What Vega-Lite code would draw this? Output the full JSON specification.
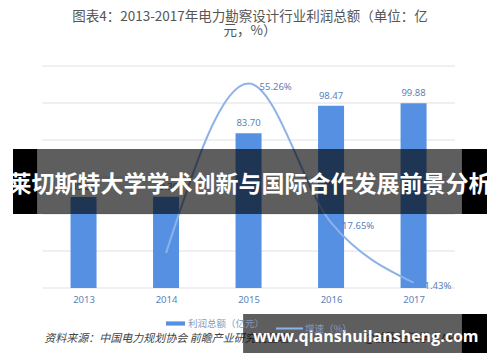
{
  "$schema": "https://vega.github.io/schema/vega-lite/v6.json",
  "autosize": "none",
  "width": 484,
  "height": 222,
  "padding": {"left": 8, "top": 66, "right": 8, "bottom": 74},
  "background": "white",
  "title": {
    "text": ["图表4：2013-2017年电力勘察设计行业利润总额（单位：亿", "元，%）"],
    "anchor": "middle",
    "font": "Noto Sans CJK SC",
    "fontSize": 13.5,
    "fontWeight": "normal",
    "color": "#555555",
    "lineHeight": 14,
    "offset": 28
  },
  "config": {
    "view": {"stroke": null},
    "font": "Noto Sans CJK SC",
    "axisX": {"grid": false, "ticks": false, "domain": false},
    "axisY": {"grid": false}
  },
  "datasets": {
    "profit": [
      {"year": 2013, "v": 49.2},
      {"year": 2014, "v": 49.3},
      {"year": 2015, "v": 83.70},
      {"year": 2016, "v": 98.47},
      {"year": 2017, "v": 99.88}
    ],
    "growth": [
      {"year": 2014, "g": 0.0946},
      {"year": 2015, "g": 0.5526},
      {"year": 2016, "g": 0.1765},
      {"year": 2017, "g": 0.0143}
    ],
    "grid": [{"v": 0}, {"v": 20}, {"v": 40}, {"v": 60}, {"v": 80}, {"v": 100}, {"v": 120}]
  },
  "resolve": {"scale": {"y": "independent"}},
  "layer": [
    {
      "layer": [
        {
          "data": {"name": "grid"},
          "mark": {"type": "rule", "color": "#e0e0e0", "strokeWidth": 1},
          "encoding": {
            "y": {"field": "v", "type": "quantitative", "scale": {"domain": [0, 120]}, "axis": null},
            "x": {"datum": 2012.5, "type": "quantitative"},
            "x2": {"datum": 2017.5}
          }
        },
        {
          "data": {"name": "profit"},
          "mark": {"type": "bar", "orient": "vertical", "size": 26},
          "encoding": {
            "x": {
              "field": "year", "type": "quantitative",
              "scale": {"domain": [2012.145, 2017.89], "nice": false, "zero": false},
              "axis": {
                "values": [2013, 2014, 2015, 2016, 2017], "format": "d", "title": null,
                "labelColor": "#5b7fb8", "labelFontSize": 9.5, "labelFont": "Noto Sans",
                "labelPadding": 6, "ticks": false, "domain": false, "grid": false
              }
            },
            "y": {"field": "v", "type": "quantitative", "scale": {"domain": [0, 120]}, "axis": null},
            "color": {
              "datum": "利润总额（亿元）", "type": "nominal",
              "scale": {"range": ["#5590e3"]},
              "legend": {
                "orient": "none", "legendX": 158, "legendY": 248, "title": null,
                "symbolType": "M-1,-0.22H1V0.22H-1Z", "symbolSize": 361, "symbolStrokeWidth": 0,
                "labelOffset": 3, "labelFont": "Noto Sans CJK SC", "labelFontSize": 9.5, "labelColor": "#8897b8"
              }
            }
          }
        },
        {
          "data": {"name": "profit"},
          "mark": {"type": "text", "baseline": "alphabetic", "dy": -7, "fontSize": 9.5, "font": "Noto Sans", "color": "#5a7fb8"},
          "encoding": {
            "x": {"field": "year", "type": "quantitative"},
            "y": {"field": "v", "type": "quantitative", "scale": {"domain": [0, 120]}, "axis": null},
            "text": {"field": "v", "type": "quantitative", "format": ".2f"}
          }
        }
      ]
    },
    {
      "layer": [
        {
          "data": {"name": "growth"},
          "mark": {"type": "line", "interpolate": "monotone", "strokeWidth": 2},
          "encoding": {
            "x": {"field": "year", "type": "quantitative"},
            "y": {"field": "g", "type": "quantitative", "scale": {"domain": [0, 0.6]}, "axis": null},
            "stroke": {
              "datum": "增速（%）", "type": "nominal",
              "scale": {"range": ["#8db2ea"]},
              "legend": {
                "orient": "none", "legendX": 267, "legendY": 248, "title": null,
                "symbolType": "stroke", "symbolSize": 729, "symbolStrokeWidth": 2,
                "labelOffset": 1, "labelFont": "Noto Sans CJK SC", "labelFontSize": 9.5, "labelColor": "#8897b8"
              }
            }
          }
        },
        {
          "data": {"name": "growth"},
          "transform": [{"filter": "datum.year > 2014"}],
          "mark": {"type": "text", "align": "left", "baseline": "middle", "dx": 11, "dy": 3, "fontSize": 9.5, "font": "Noto Sans", "color": "#5a7fb8"},
          "encoding": {
            "x": {"field": "year", "type": "quantitative"},
            "y": {"field": "g", "type": "quantitative", "scale": {"domain": [0, 0.6]}, "axis": null},
            "text": {"field": "g", "type": "quantitative", "format": ".2%"}
          }
        }
      ]
    },
    {
      "layer": [
        {
          "data": {"values": [{"t": "资料来源：中国电力规划协会 前瞻产业研究院整理"}]},
          "mark": {"type": "text", "align": "left", "baseline": "middle", "fontSize": 11, "fontStyle": "italic", "font": "Noto Sans CJK SC", "color": "#444444"},
          "encoding": {
            "x": {"datum": 2012.525, "type": "quantitative"},
            "y": {"datum": -27.6, "type": "quantitative", "scale": {"domain": [0, 120]}, "axis": null},
            "text": {"field": "t"}
          }
        },
        {
          "data": {"values": [{"t": "@前瞻经济学人APP"}]},
          "mark": {"type": "text", "align": "left", "baseline": "middle", "fontSize": 11, "font": "Noto Sans CJK SC", "color": "#555555"},
          "encoding": {
            "x": {"datum": 2016.406, "type": "quantitative"},
            "y": {"datum": -27.6, "type": "quantitative", "scale": {"domain": [0, 120]}, "axis": null},
            "text": {"field": "t"}
          }
        },
        {
          "data": {"values": [{}]},
          "mark": {"type": "rect", "color": "#000000", "opacity": 0.63},
          "encoding": {
            "x": {"datum": 2012.442, "type": "quantitative"},
            "x2": {"datum": 2017.581},
            "y": {"datum": 40.0, "type": "quantitative", "scale": {"domain": [0, 120]}, "axis": null},
            "y2": {"datum": 75.1}
          }
        },
        {
          "data": {"values": [{"a": 2012.145, "b": 2012.442}, {"a": 2017.581, "b": 2017.89}]},
          "mark": {"type": "rect", "color": "#000000"},
          "encoding": {
            "x": {"field": "a", "type": "quantitative"},
            "x2": {"field": "b"},
            "y": {"datum": 40.0, "type": "quantitative", "scale": {"domain": [0, 120]}, "axis": null},
            "y2": {"datum": 75.1}
          }
        },
        {
          "data": {"values": [{"t": "莱切斯特大学学术创新与国际合作发展前景分析"}]},
          "mark": {"type": "text", "align": "center", "baseline": "middle", "fontSize": 23, "fontWeight": "bold", "font": "Noto Sans CJK SC", "color": "#ffffff"},
          "encoding": {
            "x": {"datum": 2015.017, "type": "quantitative"},
            "y": {"datum": 55.7, "type": "quantitative", "scale": {"domain": [0, 120]}, "axis": null},
            "text": {"field": "t"}
          }
        },
        {
          "data": {"values": [{}]},
          "mark": {"type": "rect", "color": "#000000", "opacity": 0.63},
          "encoding": {
            "x": {"datum": 2014.934, "type": "quantitative"},
            "x2": {"datum": 2017.581},
            "y": {"datum": -14.05, "type": "quantitative", "scale": {"domain": [0, 120]}, "axis": null},
            "y2": {"datum": -35.1}
          }
        },
        {
          "data": {"values": [{}]},
          "mark": {"type": "rect", "color": "#000000"},
          "encoding": {
            "x": {"datum": 2017.581, "type": "quantitative"},
            "x2": {"datum": 2017.89},
            "y": {"datum": -14.05, "type": "quantitative", "scale": {"domain": [0, 120]}, "axis": null},
            "y2": {"datum": -35.1}
          }
        },
        {
          "data": {"values": [{"t": "www.qianshuilansheng.com"}]},
          "mark": {"type": "text", "align": "left", "baseline": "middle", "fontSize": 16, "fontWeight": "bold", "font": "Open Sans", "color": "#ffffff"},
          "encoding": {
            "x": {"datum": 2015.053, "type": "quantitative"},
            "y": {"datum": -26.5, "type": "quantitative", "scale": {"domain": [0, 120]}, "axis": null},
            "text": {"field": "t"}
          }
        }
      ]
    }
  ]
}
